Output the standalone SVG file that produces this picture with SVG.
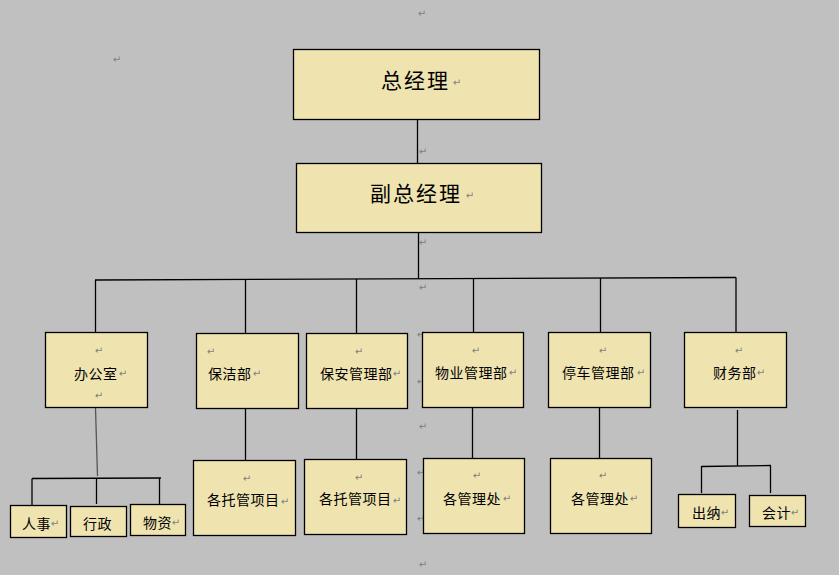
<svg xmlns="http://www.w3.org/2000/svg" width="839" height="575" viewBox="0 0 839 575">
<style>
.box{fill:#EFE3B0;stroke:#000;stroke-width:1.3}
.lbl{font-family:"Noto Sans CJK SC","Noto Sans CJK JP",sans-serif;font-size:14px;fill:#000;letter-spacing:0.5px}
.big{font-family:"Noto Sans CJK SC","Noto Sans CJK JP",sans-serif;font-size:21px;fill:#000;letter-spacing:2px}
.pm{font-family:"DejaVu Sans",sans-serif;font-size:10px;fill:#7f7f7f;text-anchor:middle}
.ln{stroke:#000;stroke-width:1.3;fill:none}
</style>
<rect width="839" height="575" fill="#C0C0C0"/>
<g id="marks-bg">
<text class="pm" x="422" y="17">↵</text>
<text class="pm" x="117" y="63">↵</text>
<text class="pm" x="423" y="155">↵</text>
<text class="pm" x="423" y="246">↵</text>
<text class="pm" x="423" y="291">↵</text>
<text class="pm" x="421" y="338">↵</text>
<text class="pm" x="421" y="385">↵</text>
<text class="pm" x="423" y="430">↵</text>
<text class="pm" x="421" y="476">↵</text>
<text class="pm" x="421" y="522">↵</text>
<text class="pm" x="423" y="568">↵</text>
</g>
<g id="connectors">
<line class="ln" x1="417.5" y1="119" x2="417.5" y2="163"/>
<line class="ln" x1="418.5" y1="232" x2="418.5" y2="279"/>
<line class="ln" x1="95" y1="280" x2="736" y2="277.5"/>
<line class="ln" x1="95.5" y1="280" x2="95.5" y2="332"/>
<line class="ln" x1="245.5" y1="279.5" x2="245.5" y2="333"/>
<line class="ln" x1="356.5" y1="279" x2="356.5" y2="333"/>
<line class="ln" x1="473.5" y1="278.5" x2="473.5" y2="332"/>
<line class="ln" x1="600.5" y1="278" x2="600.5" y2="332"/>
<line class="ln" x1="736" y1="277.5" x2="736" y2="332"/>
<line x1="95.5" y1="408" x2="97.5" y2="476" stroke="#555" stroke-width="1.3"/>
<line class="ln" x1="32" y1="478.5" x2="161" y2="478"/>
<line class="ln" x1="32" y1="478.5" x2="32" y2="505"/>
<line class="ln" x1="96.5" y1="478" x2="96.5" y2="504"/>
<line class="ln" x1="159.5" y1="478" x2="159.5" y2="504"/>
<line class="ln" x1="245.5" y1="408" x2="245.5" y2="460"/>
<line class="ln" x1="356.5" y1="408" x2="356.5" y2="459"/>
<line class="ln" x1="472.5" y1="407" x2="472.5" y2="458"/>
<line class="ln" x1="599.5" y1="407" x2="599.5" y2="458"/>
<line class="ln" x1="737.5" y1="410" x2="737.5" y2="466"/>
<line class="ln" x1="701.5" y1="466.5" x2="771" y2="465.5"/>
<line class="ln" x1="701.5" y1="466" x2="701.5" y2="493"/>
<line class="ln" x1="770.5" y1="466" x2="770.5" y2="493"/>
</g>
<g id="n-zongjingli">
<rect class="box" x="293.5" y="49.5" width="246" height="70"/>
<text class="big" x="381" y="88">总经理</text>
<text class="pm" x="457" y="86">↵</text>
</g>
<g id="n-fuzongjingli">
<rect class="box" x="296.5" y="163.5" width="245" height="69"/>
<text class="big" x="370" y="201">副总经理</text>
<text class="pm" x="470" y="199">↵</text>
</g>
<g id="n-bangongshi">
<rect class="box" x="45.5" y="332.5" width="102" height="75"/>
<text class="lbl" x="74" y="379">办公室</text>
<text class="pm" x="99" y="354">↵</text>
<text class="pm" x="123" y="377">↵</text>
<text class="pm" x="99" y="399">↵</text>
</g>
<g id="n-baojie">
<rect class="box" x="196.5" y="333.5" width="102" height="75"/>
<text class="lbl" x="208" y="379">保洁部</text>
<text class="pm" x="211" y="355">↵</text>
<text class="pm" x="257" y="377">↵</text>
</g>
<g id="n-baoan">
<rect class="box" x="306.5" y="333.5" width="101" height="75"/>
<text class="lbl" x="320" y="379">保安管理部</text>
<text class="pm" x="359" y="355">↵</text>
<text class="pm" x="397" y="377">↵</text>
</g>
<g id="n-wuye">
<rect class="box" x="422.5" y="332.5" width="101" height="75"/>
<text class="lbl" x="435" y="378">物业管理部</text>
<text class="pm" x="476" y="354">↵</text>
<text class="pm" x="513" y="376">↵</text>
</g>
<g id="n-tingche">
<rect class="box" x="548.5" y="332.5" width="102" height="75"/>
<text class="lbl" x="562" y="378">停车管理部</text>
<text class="pm" x="603" y="354">↵</text>
<text class="pm" x="641" y="376">↵</text>
</g>
<g id="n-caiwu">
<rect class="box" x="684.5" y="332.5" width="102" height="75"/>
<text class="lbl" x="713" y="378">财务部</text>
<text class="pm" x="739" y="354">↵</text>
<text class="pm" x="761" y="376">↵</text>
</g>
<g id="n-renshi">
<rect class="box" x="10.5" y="505.5" width="56" height="32"/>
<text class="lbl" x="22" y="529">人事</text>
<text class="pm" x="55" y="527">↵</text>
</g>
<g id="n-xingzheng">
<rect class="box" x="70.5" y="506.5" width="56" height="30"/>
<text class="lbl" x="83" y="529">行政</text>
</g>
<g id="n-wuzi">
<rect class="box" x="130.5" y="504.5" width="55" height="31"/>
<text class="lbl" x="143" y="528">物资</text>
<text class="pm" x="176" y="526">↵</text>
</g>
<g id="n-tuoguan1">
<rect class="box" x="193.5" y="460.5" width="102" height="75"/>
<text class="lbl" x="207" y="505">各托管项目</text>
<text class="pm" x="247" y="482">↵</text>
<text class="pm" x="285" y="505">↵</text>
</g>
<g id="n-tuoguan2">
<rect class="box" x="304.5" y="459.5" width="102" height="75"/>
<text class="lbl" x="319" y="504">各托管项目</text>
<text class="pm" x="359" y="481">↵</text>
<text class="pm" x="397" y="504">↵</text>
</g>
<g id="n-guanlichu1">
<rect class="box" x="423.5" y="458.5" width="101" height="75"/>
<text class="lbl" x="443" y="504">各管理处</text>
<text class="pm" x="477" y="479">↵</text>
<text class="pm" x="507" y="502">↵</text>
</g>
<g id="n-guanlichu2">
<rect class="box" x="550.5" y="458.5" width="101" height="75"/>
<text class="lbl" x="571" y="504">各管理处</text>
<text class="pm" x="603" y="479">↵</text>
<text class="pm" x="634" y="502">↵</text>
</g>
<g id="n-chuna">
<rect class="box" x="678.5" y="494.5" width="57" height="33"/>
<text class="lbl" x="692" y="518">出纳</text>
<text class="pm" x="725" y="516">↵</text>
</g>
<g id="n-kuaiji">
<rect class="box" x="749.5" y="495.5" width="56" height="31"/>
<text class="lbl" x="762" y="518">会计</text>
<text class="pm" x="795" y="516">↵</text>
</g>
</svg>
